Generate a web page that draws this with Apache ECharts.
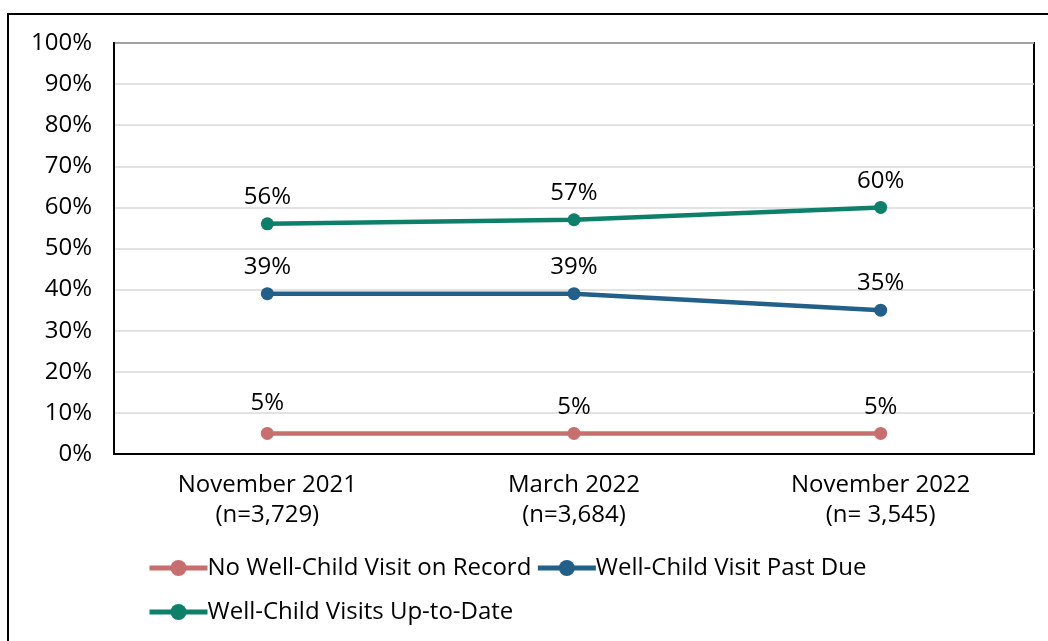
<!DOCTYPE html>
<html><head><meta charset="utf-8">
<script src="https://cdn.jsdelivr.net/npm/echarts@6/dist/echarts.min.js"></script>
<style>html,body{margin:0;padding:0;background:#fff}#c{width:1048px;height:641px}</style>
</head><body><div id="c"></div>
<script>
const categories = ["November 2021\n(n=3,729)", "March 2022\n(n=3,684)", "November 2022\n(n= 3,545)"];
const yTicks = [0,10,20,30,40,50,60,70,80,90,100];
const seriesNames = ["No Well-Child Visit on Record", "Well-Child Visit Past Due", "Well-Child Visits Up-to-Date"];
const noVisit = [5, 5, 5];
const pastDue = [39, 39, 35];
const upToDate = [56, 57, 60];
const colors = ["#C76F6E", "#225F89", "#0E7F6A"];
const FONT = "Open Sans";
const FS = 24;

const chart = echarts.init(document.getElementById('c'), null, {renderer:'canvas'});
function mk(name, data, color, idx){
  return {
    name, type:'line', data: data.map((v,i)=>{
      const o = {value:v};
      if (idx===0 && i===0) { o.label = {offset:[0,-4]}; o.labelLine = {show:true, lineStyle:{color:'#A6A6A6', width:1.5}}; }
      return o;
    }),
    color, symbol:'circle', symbolSize:13,
    lineStyle:{width:4.5, color},
    itemStyle:{color},
    label:{show:true, position:'top', distance:8, formatter:p=>p.value+'%', color:'#000', fontFamily:FONT, fontSize:FS},
    z: 3+idx
  };
}
chart.setOption({
  animation:false,
  backgroundColor:'#fff',
  grid:{left:114, right:14, top:43, bottom:187, show:true, borderColor:'#000', borderWidth:2, containLabel:false},
  xAxis:{type:'category', data:categories, boundaryGap:true,
    axisLine:{show:true, lineStyle:{color:'#000', width:2}},
    axisTick:{show:false},
    axisLabel:{color:'#000', fontFamily:FONT, fontSize:FS, lineHeight:30, margin:16, align:'center'}},
  yAxis:{type:'value', min:yTicks[0], max:yTicks[yTicks.length-1], interval:10,
    axisLine:{show:true, lineStyle:{color:'#000', width:2}},
    axisTick:{show:false},
    splitLine:{lineStyle:{color:'#D9D9D9', width:1.5}},
    axisLabel:{color:'#000', fontFamily:FONT, fontSize:FS, margin:22, formatter:v=>v+'%'}},
  legend:{show:true, left:142, top:543, width:760, itemWidth:58, itemHeight:20, itemGap:4,
    textStyle:{color:'#000', fontFamily:FONT, fontSize:FS, lineHeight:40, padding:[0,0,0,-5]},
    data:seriesNames,
    lineStyle:{width:5}},
  graphic:[{type:'rect', shape:{x:8, y:14, width:1100, height:700}, style:{fill:null, stroke:'#000', lineWidth:2}, silent:true, z:-1}],
  series:[mk(seriesNames[0], noVisit, colors[0], 0), mk(seriesNames[1], pastDue, colors[1], 1), mk(seriesNames[2], upToDate, colors[2], 2)]
});
</script></body></html>
